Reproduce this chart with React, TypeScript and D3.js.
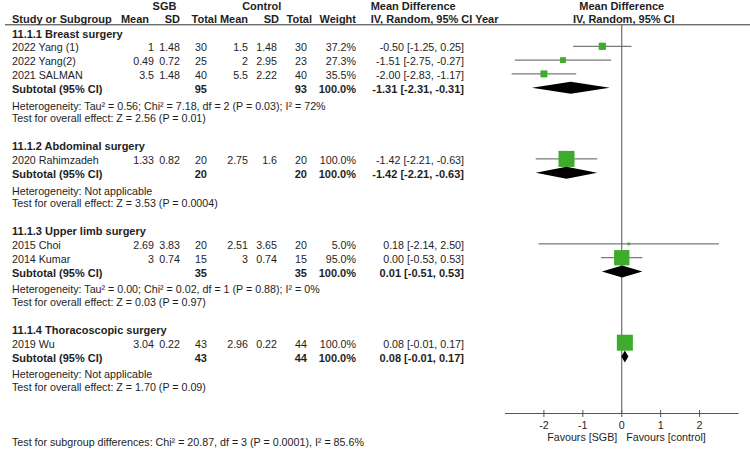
import React from "react";
import * as d3 from "d3";

// ---------- data ----------
const sectionTitles = [
  "11.1.1 Breast surgery",
  "11.1.2 Abdominal surgery",
  "11.1.3 Upper limb surgery",
  "11.1.4 Thoracoscopic surgery",
];
const studyNames = ["2022 Yang (1)", "2022 Yang(2)", "2021 SALMAN", "2020 Rahimzadeh", "2015 Choi", "2014 Kumar", "2019 Wu"];
const studySection = [0, 0, 0, 1, 2, 2, 3];
const sgbMean = [1, 0.49, 3.5, 1.33, 2.69, 3, 3.04];
const sgbSD = [1.48, 0.72, 1.48, 0.82, 3.83, 0.74, 0.22];
const sgbTotal = [30, 25, 40, 20, 20, 15, 43];
const ctrlMean = [1.5, 2, 5.5, 2.75, 2.51, 3, 2.96];
const ctrlSD = [1.48, 2.95, 2.22, 1.6, 3.65, 0.74, 0.22];
const ctrlTotal = [30, 23, 40, 20, 20, 15, 44];
const studyWeight = [37.2, 27.3, 35.5, 100, 5, 95, 100];
const studyMD = [-0.5, -1.51, -2.0, -1.42, 0.18, 0.0, 0.08];
const studyLo = [-1.25, -2.75, -2.83, -2.21, -2.14, -0.53, -0.01];
const studyHi = [0.25, -0.27, -1.17, -0.63, 2.5, 0.53, 0.17];

const subSgbTotal = [95, 20, 35, 43];
const subCtrlTotal = [93, 20, 35, 44];
const subMD = [-1.31, -1.42, 0.01, 0.08];
const subLo = [-2.31, -2.21, -0.51, -0.01];
const subHi = [-0.31, -0.63, 0.53, 0.17];
const heterogeneity = [
  "Heterogeneity: Tau² = 0.56; Chi² = 7.18, df = 2 (P = 0.03); I² = 72%",
  "Heterogeneity: Not applicable",
  "Heterogeneity: Tau² = 0.00; Chi² = 0.02, df = 1 (P = 0.88); I² = 0%",
  "Heterogeneity: Not applicable",
];
const overallEffect = [
  "Test for overall effect: Z = 2.56 (P = 0.01)",
  "Test for overall effect: Z = 3.53 (P = 0.0004)",
  "Test for overall effect: Z = 0.03 (P = 0.97)",
  "Test for overall effect: Z = 1.70 (P = 0.09)",
];
const subgroupTest = "Test for subgroup differences: Chi² = 20.87, df = 3 (P = 0.0001), I² = 85.6%";
const axisTicks = [-2, -1, 0, 1, 2];
const favoursLeft = "Favours [SGB]";
const favoursRight = "Favours [control]";

// ---------- layout ----------
const W = 750;
const H = 451;
const FONT = "'Liberation Sans', Arial, sans-serif";
const FS = 10.7;
const FSB = 11;
const TXT = "#1e1e1e";

const x = d3.scaleLinear().domain([-3, 3]).range([505, 738.5]);
const sq = d3.scaleLinear().domain([0, 100]).range([2, 16]);

const col = {
  name: 12,
  sgbMean: 154,
  sgbSD: 180,
  sgbTotal: 207,
  ctrlMean: 248,
  ctrlSD: 277,
  ctrlTotal: 307,
  weight: 356,
  md: 464,
};

type Line =
  | { kind: "section"; s: number; y: number }
  | { kind: "study"; i: number; y: number }
  | { kind: "subtotal"; s: number; y: number }
  | { kind: "het"; s: number; y: number }
  | { kind: "test"; s: number; y: number };

function buildLines(): Line[] {
  const lines: Line[] = [];
  let y = 37.5;
  sectionTitles.forEach((_, s) => {
    if (s > 0) y += 28;
    lines.push({ kind: "section", s, y });
    studyNames.forEach((_, i) => {
      if (studySection[i] === s) {
        y += 13.8;
        lines.push({ kind: "study", i, y });
      }
    });
    y += 13.8;
    lines.push({ kind: "subtotal", s, y });
    y += 16.8;
    lines.push({ kind: "het", s, y });
    y += 12.6;
    lines.push({ kind: "test", s, y });
  });
  return lines;
}

const fmtCI = (m: number, l: number, h: number) => `${m.toFixed(2)} [${l.toFixed(2)}, ${h.toFixed(2)}]`;

function T(props: { x: number; y: number; children: React.ReactNode; bold?: boolean; anchor?: string }) {
  return (
    <text
      x={props.x}
      y={props.y}
      textAnchor={(props.anchor as any) || "start"}
      fontWeight={props.bold ? "bold" : "normal"}
      fontFamily={FONT}
      fontSize={props.bold ? FSB : FS}
      fill={TXT}
    >
      {props.children}
    </text>
  );
}

export default function App() {
  const lines = buildLines();
  const zero = x(0);
  const axisY = 413.5;
  const markOff = 5;

  return (
    <svg
      width={W}
      height={H}
      style={{ position: "absolute", left: 0, top: 0, background: "#fff" }}
    >
      <rect x={0} y={0} width={W} height={H} fill="#fff" />
      {/* header */}
      <T x={164.5} y={10} bold anchor="middle">SGB</T>
      <T x={261.7} y={10} bold anchor="middle">Control</T>
      <T x={370.7} y={10} bold>Mean Difference</T>
      <T x={zero} y={10} bold anchor="middle">Mean Difference</T>
      <T x={12} y={23.3} bold>Study or Subgroup</T>
      <T x={149} y={23.3} bold anchor="end">Mean</T>
      <T x={180} y={23.3} bold anchor="end">SD</T>
      <T x={217} y={23.3} bold anchor="end">Total</T>
      <T x={248} y={23.3} bold anchor="end">Mean</T>
      <T x={279} y={23.3} bold anchor="end">SD</T>
      <T x={312} y={23.3} bold anchor="end">Total</T>
      <T x={356} y={23.3} bold anchor="end">Weight</T>
      <T x={370.7} y={23.3} bold>IV, Random, 95% CI Year</T>
      <T x={zero + 2} y={23.3} bold anchor="middle">IV, Random, 95% CI</T>
      <line x1={5} x2={750} y1={24.8} y2={24.8} stroke="#333" strokeWidth={1} />

      {/* zero line */}
      <line x1={zero} x2={zero} y1={24.8} y2={axisY} stroke="#555" strokeWidth={1} />

      {lines.map((ln, k) => {
        if (ln.kind === "section") {
          return <T key={k} x={col.name} y={ln.y} bold>{sectionTitles[ln.s]}</T>;
        }
        if (ln.kind === "study") {
          const i = ln.i;
          const cy = ln.y - markOff;
          const s = sq(studyWeight[i]);
          return (
            <g key={k}>
              <T x={col.name} y={ln.y}>{studyNames[i]}</T>
              <T x={col.sgbMean} y={ln.y} anchor="end">{String(sgbMean[i])}</T>
              <T x={col.sgbSD} y={ln.y} anchor="end">{String(sgbSD[i])}</T>
              <T x={col.sgbTotal} y={ln.y} anchor="end">{String(sgbTotal[i])}</T>
              <T x={col.ctrlMean} y={ln.y} anchor="end">{String(ctrlMean[i])}</T>
              <T x={col.ctrlSD} y={ln.y} anchor="end">{String(ctrlSD[i])}</T>
              <T x={col.ctrlTotal} y={ln.y} anchor="end">{String(ctrlTotal[i])}</T>
              <T x={col.weight} y={ln.y} anchor="end">{studyWeight[i].toFixed(1) + "%"}</T>
              <T x={col.md} y={ln.y} anchor="end">{fmtCI(studyMD[i], studyLo[i], studyHi[i])}</T>
              <line x1={x(studyLo[i])} x2={x(studyHi[i])} y1={cy} y2={cy} stroke="#5a5a5a" strokeWidth={1} />
              <rect x={x(studyMD[i]) - s / 2} y={cy - s / 2} width={s} height={s} fill="#3fab2c" />
            </g>
          );
        }
        if (ln.kind === "subtotal") {
          const s = ln.s;
          const cy = ln.y - markOff;
          const hh = 6;
          const pts = [
            [x(subLo[s]), cy],
            [x(subMD[s]), cy - hh],
            [x(subHi[s]), cy],
            [x(subMD[s]), cy + hh],
          ];
          return (
            <g key={k}>
              <T x={col.name} y={ln.y} bold>Subtotal (95% CI)</T>
              <T x={col.sgbTotal} y={ln.y} bold anchor="end">{String(subSgbTotal[s])}</T>
              <T x={col.ctrlTotal} y={ln.y} bold anchor="end">{String(subCtrlTotal[s])}</T>
              <T x={col.weight} y={ln.y} bold anchor="end">100.0%</T>
              <T x={col.md} y={ln.y} bold anchor="end">{fmtCI(subMD[s], subLo[s], subHi[s])}</T>
              <polygon points={pts.map((p) => p.join(",")).join(" ")} fill="#000" />
            </g>
          );
        }
        if (ln.kind === "het") {
          return <T key={k} x={col.name} y={ln.y}>{heterogeneity[ln.s]}</T>;
        }
        return <T key={k} x={col.name} y={ln.y}>{overallEffect[ln.s]}</T>;
      })}

      <T x={col.name} y={446}>{subgroupTest}</T>

      {/* axis */}
      <line x1={x(-3)} x2={x(3)} y1={axisY} y2={axisY} stroke="#555" strokeWidth={1} />
      {axisTicks.map((t) => (
        <g key={t}>
          <line x1={x(t)} x2={x(t)} y1={axisY - 3.5} y2={axisY + 3.5} stroke="#555" strokeWidth={1} />
          <T x={x(t)} y={429} anchor="middle">{String(t)}</T>
        </g>
      ))}
      <T x={zero - 4.5} y={441} anchor="end">{favoursLeft}</T>
      <T x={zero + 4.5} y={441}>{favoursRight}</T>
    </svg>
  );
}
